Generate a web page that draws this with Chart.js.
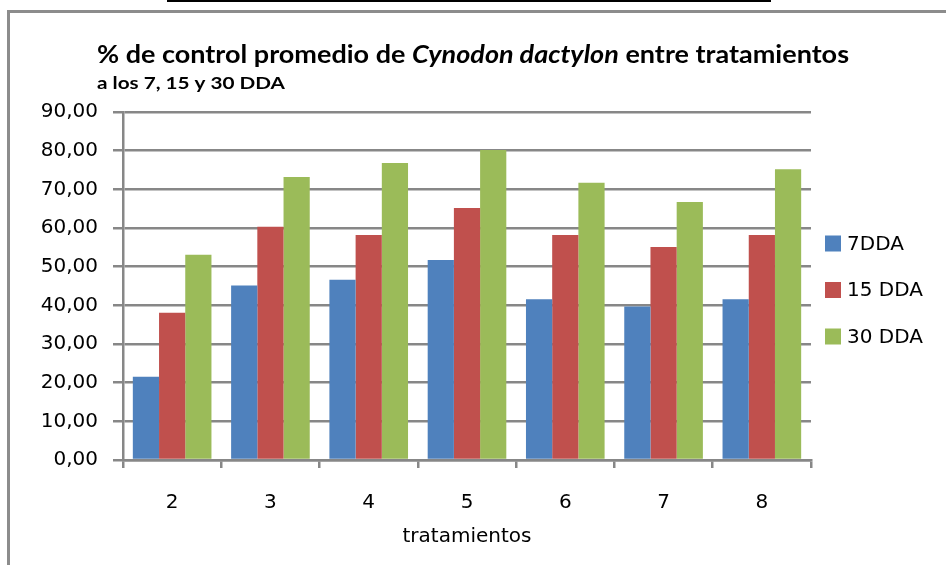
<!DOCTYPE html>
<html>
<head>
<meta charset="utf-8">
<script src="https://cdn.jsdelivr.net/npm/chart.js@4"></script>
<style>
  body { margin: 0; background: #fff; }
  #wrap { position: relative; width: 946px; height: 565px; overflow: hidden; }
  #topline { position: absolute; left: 167px; top: 0; width: 604px; height: 2px; background: #000; }
  #frame { position: absolute; left: 7px; top: 10px; width: 960px; height: 600px;
           border-left: 3px solid #8c8c8c; border-top: 3px solid #8c8c8c; }
  canvas { position: absolute; left: 0; top: 0; }
</style>
</head>
<body>
<div id="wrap">
  <div id="topline"></div>
  <div id="frame"></div>
  <canvas id="chart" width="946" height="565"></canvas>
</div>
<script>
// datos
const tratamientos = ['2', '3', '4', '5', '6', '7', '8'];
const series = ['7DDA', '15 DDA', '30 DDA'];
const dda7 = [21.5, 45.1, 46.6, 51.7, 41.6, 39.7, 41.6];
const dda15 = [38.1, 60.3, 58.2, 65.2, 58.2, 55.1, 58.2];
const dda30 = [53.1, 73.2, 76.8, 80.2, 71.7, 66.7, 75.2];
const colores = ['#4F81BD', '#C0504D', '#9BBB59'];

const gris = '#878787';
const fuente = "'DejaVu Sans', sans-serif";

// titulo con parte en cursiva, ajustado al ancho
const tituloPlugin = {
  id: 'titulo',
  afterDraw(chart) {
    const ctx = chart.ctx;
    ctx.save();
    ctx.fillStyle = '#000';
    ctx.textBaseline = 'alphabetic';

    const partes = [
      { t: '% de control promedio de ', i: false },
      { t: 'Cynodon dactylon', i: true },
      { t: ' entre tratamientos', i: false }
    ];
    const size = 25;
    let total = 0;
    partes.forEach(p => {
      ctx.font = (p.i ? 'italic ' : '') + 'bold ' + size + 'px Lato, sans-serif';
      p.w = ctx.measureText(p.t).width;
      total += p.w;
    });
    const sx = 752 / total;
    ctx.save();
    ctx.translate(97, 63);
    ctx.scale(sx, 1);
    let x = 0;
    partes.forEach(p => {
      ctx.font = (p.i ? 'italic ' : '') + 'bold ' + size + 'px Lato, sans-serif';
      ctx.fillText(p.t, x, 0);
      x += p.w;
    });
    ctx.restore();

    const sub = 'a los 7, 15 y 30 DDA';
    ctx.font = 'bold 17px Lato, sans-serif';
    const sw = ctx.measureText(sub).width;
    ctx.translate(97, 89);
    ctx.scale(188 / sw, 1);
    ctx.fillText(sub, 0, 0);
    ctx.restore();
  }
};

// leyenda a la derecha
const leyendaPlugin = {
  id: 'leyenda',
  afterDraw(chart) {
    const ctx = chart.ctx;
    const area = chart.chartArea;
    const centro = (area.top + area.bottom) / 2 + 4;
    ctx.save();
    ctx.font = '20px ' + fuente;
    ctx.textBaseline = 'middle';
    chart.data.datasets.forEach((ds, i) => {
      const y = centro + (i - 1) * 46.5;
      const x = area.right + 14;
      ctx.fillStyle = ds.backgroundColor;
      ctx.fillRect(x, y - 8, 16, 16);
      ctx.fillStyle = '#000';
      ctx.fillText(ds.label, x + 22, y + 1);
    });
    ctx.restore();
  }
};

const datos = [dda7, dda15, dda30];

new Chart(document.getElementById('chart'), {
  type: 'bar',
  data: {
    labels: tratamientos,
    datasets: series.map((s, i) => ({
      label: s,
      data: datos[i],
      backgroundColor: colores[i],
      borderWidth: 0,
      categoryPercentage: 0.8,
      barPercentage: 1.0
    }))
  },
  options: {
    responsive: false,
    animation: false,
    devicePixelRatio: 1,
    layout: { padding: { left: 0, top: 112, right: 135, bottom: 15 } },
    plugins: {
      legend: { display: false },
      tooltip: { enabled: false }
    },
    scales: {
      y: {
        min: 0,
        max: 90,
        afterFit: (scale) => { scale.width = 123; },
        ticks: {
          stepSize: 10,
          padding: 15,
          color: '#000',
          font: { family: fuente, size: 20 },
          callback: (v) => v.toFixed(2).replace('.', ',')
        },
        grid: { color: gris, lineWidth: 2.5, tickLength: 10 },
        border: { color: gris, width: 2.5 }
      },
      x: {
        afterFit: (scale) => { scale.height = 90; },
        ticks: {
          padding: 23,
          color: '#000',
          font: { family: fuente, size: 20 }
        },
        grid: { offset: true, drawOnChartArea: false, color: gris, lineWidth: 2.5, tickLength: 8 },
        border: { color: gris, width: 2.5 },
        title: {
          display: true,
          text: 'tratamientos',
          color: '#000',
          font: { family: fuente, size: 20 },
          padding: { top: 0, bottom: 1 }
        }
      }
    }
  },
  plugins: [tituloPlugin, leyendaPlugin]
});
</script>
</body>
</html>
